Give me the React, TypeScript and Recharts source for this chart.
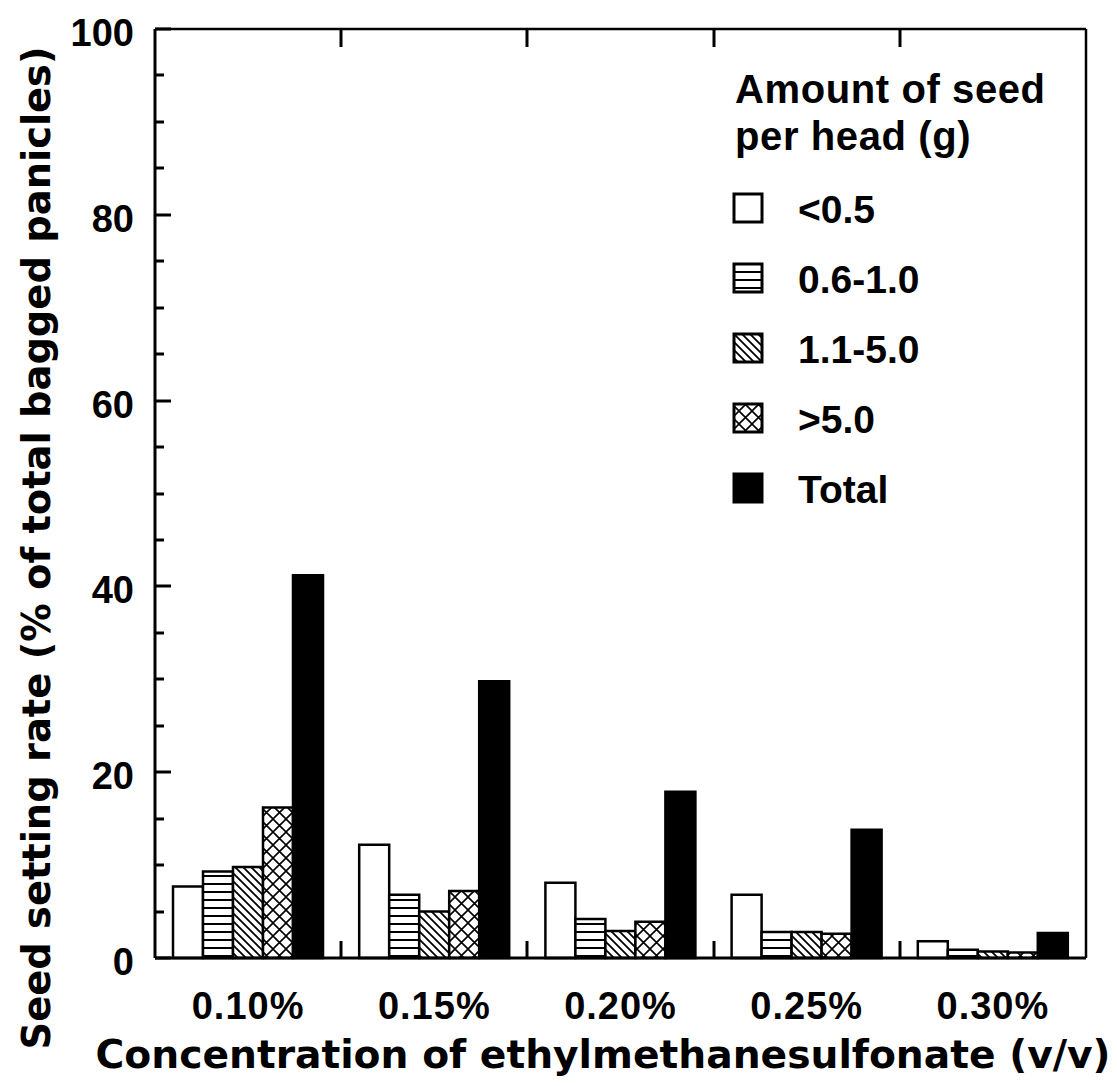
import React from "react";
import { Bar, BarChart, Legend, XAxis, YAxis } from "recharts";

const categories = ["0.10%", "0.15%", "0.20%", "0.25%", "0.30%"];
const below05 = [7.7, 12.2, 8.1, 6.8, 1.8];
const from06to10 = [9.3, 6.8, 4.2, 2.8, 0.9];
const from11to50 = [9.8, 5.0, 2.9, 2.8, 0.7];
const above50 = [16.2, 7.2, 3.9, 2.6, 0.6];
const totals = [41.2, 29.8, 17.9, 13.8, 2.7];

const seriesLabels = ["<0.5", "0.6-1.0", "1.1-5.0", ">5.0", "Total"];
const seriesFills = ["#ffffff", "url(#hlines)", "url(#diag)", "url(#cross)", "#000000"];
const yTicks = [0, 5, 10, 15, 20, 25, 30, 35, 40, 45, 50, 55, 60, 65, 70, 75, 80, 85, 90, 95, 100];

const data = categories.map((conc, i) => ({
  conc,
  s0: below05[i],
  s1: from06to10[i],
  s2: from11to50[i],
  s3: above50[i],
  s4: totals[i],
}));

// chart frame
const W = 1117;
const H = 1086;
const PL = 155;
const PR = 1086;
const PT = 29;
const PB = 958;
const CAT_W = (PR - PL) / categories.length;
const FONT = "Arial, 'Liberation Sans', sans-serif";
const TITLE_FONT = "'DejaVu Sans', Arial, sans-serif";

function LeftTick(props: any) {
  const { y, payload } = props;
  const major = payload.value % 20 === 0;
  const yy = Math.round(y);
  return (
    <g>
      <line x1={PL} x2={PL + (major ? 16 : 9)} y1={yy} y2={yy} stroke="#000" strokeWidth={3} />
      {major && (
        <text x={134} y={y + 17} textAnchor="end" fontFamily={FONT} fontWeight="bold" fontSize={38} fill="#000">
          {payload.value}
        </text>
      )}
    </g>
  );
}

function RightTick(props: any) {
  const { y, payload } = props;
  const major = payload.value % 20 === 0;
  const yy = Math.round(y);
  return <line x1={PR - (major ? 16 : 9)} x2={PR} y1={yy} y2={yy} stroke="#000" strokeWidth={3} />;
}

function BottomTick(props: any) {
  const { x, payload, index } = props;
  const bx = Math.round(x - CAT_W / 2);
  return (
    <g>
      {index > 0 && <line x1={bx} x2={bx} y1={PB} y2={PB - 17} stroke="#000" strokeWidth={3} />}
      <text
        x={x}
        y={1019}
        textAnchor="middle"
        fontFamily={FONT}
        fontWeight="bold"
        fontSize={38}
        letterSpacing={1}
        fill="#000"
      >
        {payload.value}
      </text>
    </g>
  );
}

function TopTick(props: any) {
  const { x, index } = props;
  if (index === 0) return <g />;
  const bx = Math.round(x - CAT_W / 2);
  return <line x1={bx} x2={bx} y1={PT} y2={PT + 18} stroke="#000" strokeWidth={3} />;
}

function renderLegend() {
  return (
    <svg width={400} height={470} style={{ overflow: "visible" }}>
      <text x={35} y={43} fontFamily={FONT} fontWeight="bold" fontSize={40} letterSpacing={0.6} fill="#000">
        Amount of seed
      </text>
      <text x={35} y={90} fontFamily={FONT} fontWeight="bold" fontSize={40} letterSpacing={0.6} fill="#000">
        per head (g)
      </text>
      {seriesLabels.map((label, i) => {
        const cy = 148 + i * 70;
        return (
          <g key={label}>
            <rect x={34} y={cy - 14} width={28} height={28} fill={seriesFills[i]} stroke="#000" strokeWidth={3} />
            <text x={98} y={cy + 15} fontFamily={FONT} fontWeight="bold" fontSize={39} fill="#000">
              {label}
            </text>
          </g>
        );
      })}
    </svg>
  );
}

export default function App() {
  return (
    <div style={{ position: "absolute", left: 0, top: 0, width: W, height: H, background: "#fff" }}>
      <BarChart
        width={W}
        height={H}
        data={data}
        margin={{ top: 0, right: 0, bottom: 0, left: 0 }}
        barCategoryGap={18}
        barGap={0}
      >
        <defs>
          <pattern id="hlines" patternUnits="userSpaceOnUse" width={8} height={8}>
            <rect width={8} height={8} fill="#fff" />
            <line x1={0} x2={8} y1={4} y2={4} stroke="#000" strokeWidth={2} />
          </pattern>
          <pattern id="diag" patternUnits="userSpaceOnUse" width={8} height={8}>
            <rect width={8} height={8} fill="#fff" />
            <path d="M-2,-2 L10,10 M-2,6 L2,10 M6,-2 L10,2" stroke="#000" strokeWidth={1.8} />
          </pattern>
          <pattern id="cross" patternUnits="userSpaceOnUse" width={13} height={13}>
            <rect width={13} height={13} fill="#fff" />
            <path d="M0,0 L13,13 M13,0 L0,13" stroke="#000" strokeWidth={1.6} />
          </pattern>
        </defs>

        <XAxis
          dataKey="conc"
          height={H - PB}
          axisLine={{ stroke: "#000", strokeWidth: 3 }}
          tickLine={false}
          tick={<BottomTick />}
          interval={0}
        />
        <XAxis
          xAxisId="top"
          dataKey="conc"
          orientation="top"
          height={PT}
          axisLine={{ stroke: "#000", strokeWidth: 2.5 }}
          tickLine={false}
          tick={<TopTick />}
          interval={0}
        />
        <YAxis
          width={PL}
          domain={[0, 100]}
          ticks={yTicks}
          interval={0}
          axisLine={{ stroke: "#000", strokeWidth: 3 }}
          tickLine={false}
          tick={<LeftTick />}
        />
        <YAxis
          yAxisId="right"
          orientation="right"
          width={W - PR}
          domain={[0, 100]}
          ticks={yTicks}
          interval={0}
          axisLine={{ stroke: "#000", strokeWidth: 2.5 }}
          tickLine={false}
          tick={<RightTick />}
        />

        <Legend
          layout="vertical"
          align="center"
          verticalAlign="middle"
          content={renderLegend}
          wrapperStyle={{ left: 700, top: 60, width: 400, height: 470 }}
        />

        {["s0", "s1", "s2", "s3", "s4"].map((key, i) => (
          <Bar
            key={key}
            dataKey={key}
            name={seriesLabels[i]}
            fill={seriesFills[i]}
            stroke="#000"
            strokeWidth={2.5}
            isAnimationActive={false}
          />
        ))}

        <text
          transform="rotate(-90)"
          x={-548}
          y={50}
          textAnchor="middle"
          fontFamily={TITLE_FONT}
          fontWeight="bold"
          fontSize={39}
          textLength={1003}
          lengthAdjust="spacingAndGlyphs"
          fill="#000"
        >
          Seed setting rate (% of total bagged panicles)
        </text>
        <text
          x={603}
          y={1068}
          textAnchor="middle"
          fontFamily={TITLE_FONT}
          fontWeight="bold"
          fontSize={39}
          textLength={1015}
          lengthAdjust="spacingAndGlyphs"
          fill="#000"
        >
          Concentration of ethylmethanesulfonate (v/v)
        </text>
      </BarChart>
    </div>
  );
}
